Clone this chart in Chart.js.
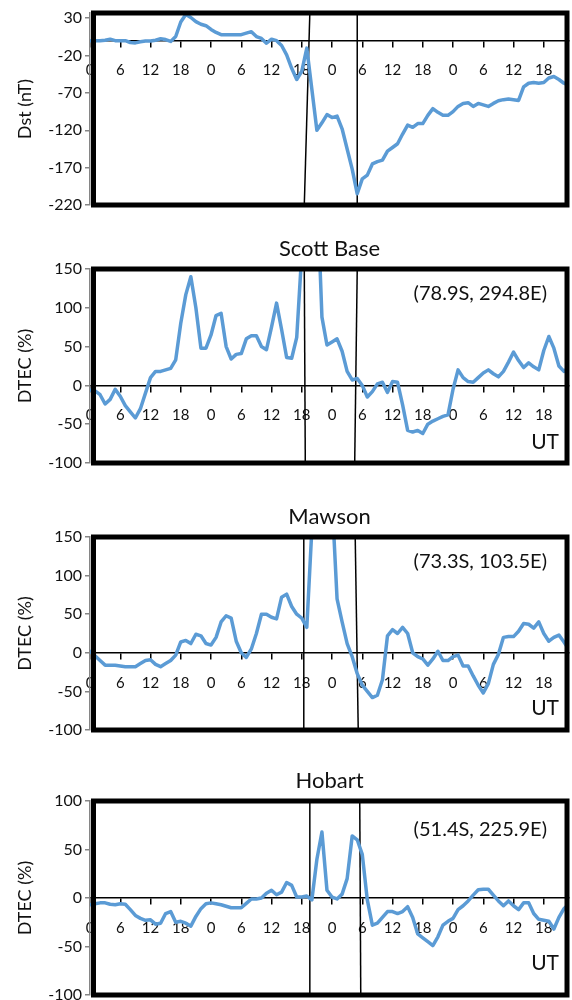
<!DOCTYPE html>
<html>
<head>
<meta charset="utf-8">
<script src="https://cdn.jsdelivr.net/npm/chart.js@4.4.1/dist/chart.umd.min.js"></script>
<style>
  body { margin: 0; background: #fff; }
  canvas { position: absolute; left: 0; }
</style>
</head>
<body>
<canvas id="dst" width="572" height="228" style="top:0px"></canvas>
<canvas id="scott" width="572" height="264" style="top:228px"></canvas>
<canvas id="mawson" width="572" height="266" style="top:492px"></canvas>
<canvas id="hobart" width="572" height="242" style="top:758px"></canvas>
<script>
// hourly UT, 4 days
const hours = [
  0, 1, 2, 3, 4, 5, 6, 7, 8, 9, 10, 11, 12, 13, 14, 15, 16, 17, 18, 19, 20, 21, 22, 23,
  24, 25, 26, 27, 28, 29, 30, 31, 32, 33, 34, 35, 36, 37, 38, 39, 40, 41, 42, 43, 44, 45, 46, 47,
  48, 49, 50, 51, 52, 53, 54, 55, 56, 57, 58, 59, 60, 61, 62, 63, 64, 65, 66, 67, 68, 69, 70, 71,
  72, 73, 74, 75, 76, 77, 78, 79, 80, 81, 82, 83, 84, 85, 86, 87, 88, 89, 90, 91, 92, 93, 94, 95
];
const xTicks = [0, 6, 12, 18, 24, 30, 36, 42, 48, 54, 60, 66, 72, 78, 84, 90];
const dstTicks = [-220, -170, -120, -70, -20, 30];
const dtecTicks = [-100, -50, 0, 50, 100, 150];
const hobartTicks = [-100, -50, 0, 50, 100];

const dst = [
  0, 0, 0, 0.5, 2, 0, 0, 0, -2.5, -3, -1.5, -0.5, -0.5, 0.5, 2.5, 1.5, -1, 5.5, 25, 35, 31, 25.5, 22, 20,
  15, 11, 8, 8, 8, 8, 8, 10, 12, 5.5, 3, -3.5, 2, 0, -6.5, -19, -37, -52, -41, -10, -65, -120, -110, -99,
  -103, -101, -118, -145, -172, -205, -185, -180, -165, -162, -160, -148, -143, -138, -125, -113, -116, -111, -111, -100, -91, -96, -100, -100,
  -95, -88, -84, -83, -88, -84, -86, -88, -84, -80.5, -79, -78, -79, -80, -62, -57, -56, -57, -56, -50, -48, -52, -57, -60
];
const scottBase = [
  -6, -7, -12, -24, -18, -5, -14, -26, -34, -42, -30, -10, 10, 18, 18, 20, 22, 33, 80, 117, 140, 100, 48, 48,
  65, 90, 93, 50, 34, 40, 41, 60, 64, 64, 50, 46, 75, 106, 72, 36, 35, 62, 170, 300, 330, 260, 88, 52,
  56, 60, 44, 18, 7, 9, 0, -15, -8, 2, 4, -9, 5, 4, -25, -58, -60, -58, -62, -50, -46, -43, -40, -38,
  -5, 20, 10, 5, 4, 10, 16, 20, 15, 11, 18, 30, 43, 32, 23, 29, 24, 20, 45, 63, 48, 25, 18, 24
];
const mawson = [
  2, -4, -10, -16, -16, -16, -17, -18, -18, -18, -14, -10, -9, -15, -18, -14, -10, -3, 14, 16, 12, 24, 22, 12,
  10, 20, 40, 48, 45, 15, 0, -6, 5, 25, 50, 50, 46, 44, 72, 76, 60, 50, 45, 33, 160, 280, 320, 280,
  200, 70, 40, 12, -5, -27, -42, -50, -58, -55, -35, 22, 30, 25, 33, 25, 0, -5, -8, -16, -8, 2, -10, -10,
  -5, -3, -17, -17, -30, -42, -52, -40, -15, -2, 20, 21, 21, 28, 38, 37, 32, 40, 25, 15, 20, 23, 14, 4
];
const hobart = [
  -7, -6, -5, -5, -6.5, -7, -6, -6.5, -12, -18, -21, -23, -22.5, -27, -26, -16, -14, -25, -24, -26, -29, -19, -11, -6,
  -5, -6, -7, -8.5, -10, -10, -10, -5.5, -1, -1, 0, 5, 8, 3.4, 6, 16, 13, 1, 1, 2, -2, 40, 68, 8,
  1, -1, 4, 20, 64, 60, 45, -2, -28, -26, -20, -14, -14, -16, -14, -9, -20, -37, -41, -45, -49, -40, -28, -24,
  -21, -12, -8, -3, 3, 8.5, 9, 9, 3, -3, -8, -3, -8, -12, -5, -5, -16, -22, -23, -24, -32, -20, -11, -6
];

// storm markers: [UT hour at top of panel, UT hour at bottom of panel]
const dstMarks = [[43.6, 42.5], [53.0, 53.0]];
const scottMarks = [[42.5, 42.7], [53.0, 52.5]];
const mawsonMarks = [[42.4, 42.4], [52.6, 53.2]];
const hobartMarks = [[43.6, 43.6], [53.5, 53.7]];

const stationNames = ['Scott Base', 'Mawson', 'Hobart'];
const stationCoords = ['(78.9S, 294.8E)', '(73.3S, 103.5E)', '(51.4S, 225.9E)'];

Chart.defaults.font.family = 'Lato, "Open Sans", sans-serif';
Chart.defaults.color = '#111';

const framePlugin = {
  id: 'frame',
  afterDraw(chart, args, opts) {
    const {ctx, chartArea: a} = chart;
    ctx.save();
    ctx.strokeStyle = '#000';
    ctx.lineWidth = 5;
    ctx.strokeRect(a.left + 3.5, a.top, a.right - a.left - 5.5, a.bottom - a.top);
    ctx.fillStyle = '#111';
    if (opts.coords) {
      ctx.font = '20px Lato, sans-serif';
      ctx.textAlign = 'right';
      ctx.textBaseline = 'middle';
      ctx.fillText(opts.coords, a.right - 22, a.top + opts.coordsDy);
      ctx.font = '21px Lato, sans-serif';
      ctx.fillText('UT', a.right - 10, a.bottom - opts.utDy);
    }
    ctx.restore();
  }
};

function makePanel(id, values, marks, yMin, yMax, yTicks, yTitle, title, pad, extra) {
  const markSets = marks.map(m => ({
    data: [{x: m[0], y: yMax}, {x: m[1], y: yMin}],
    borderColor: '#000',
    borderWidth: 1.5,
    pointRadius: 0
  }));
  return new Chart(document.getElementById(id), {
    type: 'line',
    data: {
      labels: hours,
      datasets: [{
        data: values,
        borderColor: '#5B9BD5',
        borderWidth: 3.5,
        borderJoinStyle: 'round',
        borderCapStyle: 'round',
        pointRadius: 0,
        tension: 0
      }].concat(markSets)
    },
    plugins: [framePlugin],
    options: {
      responsive: false,
      animation: false,
      events: [],
      layout: {padding: pad},
      plugins: {
        legend: {display: false},
        tooltip: {enabled: false},
        title: title ? {
          display: true,
          text: title.text,
          fullSize: false,
          color: '#111',
          font: {size: 22, weight: 'normal'},
          padding: {top: title.top, bottom: title.bottom}
        } : {display: false},
        frame: extra || {}
      },
      scales: {
        x: {
          type: 'linear',
          min: 0,
          max: 95,
          position: {y: 0},
          afterBuildTicks: s => { s.ticks = xTicks.map(v => ({value: v})); },
          afterFit: s => { s.height = 0; s.paddingLeft = 0; s.paddingRight = 0; },
          grid: {drawOnChartArea: false, tickLength: 6, color: '#000', lineWidth: 1.5},
          border: {color: '#000', width: 1.5},
          ticks: {
            font: {size: 15},
            padding: 15,
            maxRotation: 0,
            autoSkip: false,
            callback: v => v % 24
          }
        },
        y: {
          min: yMin,
          max: yMax,
          afterBuildTicks: s => { s.ticks = yTicks.map(v => ({value: v})); },
          afterFit: s => { s.width = 90; s.paddingTop = 0; s.paddingBottom = 0; },
          grid: {drawOnChartArea: false, tickLength: 5, color: '#868686', lineWidth: 1.5},
          border: {color: '#868686', width: 1.5},
          ticks: {font: {size: 16}, padding: 3},
          title: {display: true, text: yTitle, font: {size: 18}, padding: {top: 14, bottom: 0}}
        }
      }
    }
  });
}

window.addEventListener('load', function () {
  makePanel('dst', dst, dstMarks, -220, 37, dstTicks, 'Dst (nT)', null,
    {top: 13, right: 3, bottom: 23, left: 0});
  makePanel('scott', scottBase, scottMarks, -100, 150, dtecTicks, 'DTEC (%)',
    {text: stationNames[0], top: 8, bottom: 6.6},
    {top: 0, right: 3, bottom: 29, left: 0},
    {coords: stationCoords[0], coordsDy: 25, utDy: 21});
  makePanel('mawson', mawson, mawsonMarks, -100, 150, dtecTicks, 'DTEC (%)',
    {text: stationNames[1], top: 11.8, bottom: 6.8},
    {top: 0, right: 3, bottom: 28, left: 0},
    {coords: stationCoords[1], coordsDy: 25, utDy: 22});
  makePanel('hobart', hobart, hobartMarks, -100, 100, hobartTicks, 'DTEC (%)',
    {text: stationNames[2], top: 9.8, bottom: 6.8},
    {top: 0, right: 3, bottom: 5, left: 0},
    {coords: stationCoords[2], coordsDy: 29, utDy: 32});
}, false);
</script>
</body>
</html>
